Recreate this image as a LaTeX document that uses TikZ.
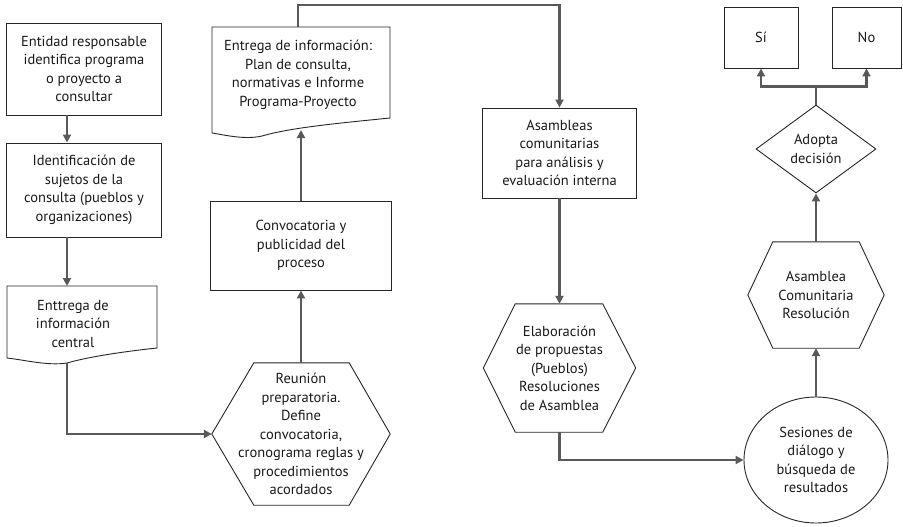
\documentclass[tikz,border=0pt]{standalone}
\usepackage{fontspec}
\setmainfont{PT Sans}
\usetikzlibrary{positioning,shapes.geometric,arrows.meta}

\begin{document}
\begin{tikzpicture}[x=1pt,y=-1pt]
		\tikzset{Paso/.style = {rectangle, draw=black!85, line width=0.9pt, align=center, inner sep=0pt, text=black!90, font=\fontsize{14.5}{18.5}\selectfont},
		         Texto/.style = {align=center, inner sep=0pt, text=black!90, font=\fontsize{14.5}{18.5}\selectfont},
		         Borde/.style = {draw=black!85, line width=0.9pt},
		         Flecha/.style = {draw=black!65, line width=2.4pt, -{Triangle[length=8pt,width=8pt]}}}
		\useasboundingbox (0,0) rectangle (903,527);
		% columna izquierda
		\node[Paso, minimum width=155pt, minimum height=92pt] (ent) at (84,69) {Entidad responsable\\identifica programa\\o proyecto a\\consultar};
		\node[Paso, minimum width=155pt, minimum height=94pt] (suj) at (84,190) {Identificación de\\sujetos de la\\consulta (pueblos y\\organizaciones)};
		\draw[Borde] (7,358) -- (7,286) -- (157,286) -- (157,348) .. controls (120,352) and (88,357) .. (67,363) .. controls (48,366) and (25,360) .. (7,358);
		\node[Texto] (cen) at (73,324) {Enttrega de\\información\\central};
		\coordinate (cent) at (67,286);
		\coordinate (cenb) at (67,363);
		% columna central
		\node[Texto, minimum width=178pt, minimum height=142pt] (reu) at (301,434) {Reunión\\preparatoria.\\Define\\convocatoria,\\cronograma reglas y\\procedimientos\\acordados};
		\draw[Borde] (reu.west) -- ([xshift=42pt]reu.north west) -- ([xshift=-41pt]reu.north east) -- (reu.east) -- ([xshift=-41pt]reu.south east) -- ([xshift=42pt]reu.south west) -- cycle;
		\node[Paso, minimum width=181pt, minimum height=89pt] (con) at (301,245.5) {Convocatoria y\\publicidad del\\proceso};
		\draw[Borde] (212,133) -- (212,27) -- (390,27) -- (390,118) .. controls (330,124) and (290,128) .. (262,136) .. controls (245,140) and (225,135) .. (212,133);
		\node[Texto] (inf) at (298,75) {Entrega de información:\\Plan de consulta,\\normativas e Informe\\Programa-Proyecto};
		\coordinate (inft) at (298,27);
		\coordinate (infb) at (301,130);
		\node[Paso, minimum width=154pt, minimum height=90pt] (asa) at (559.5,153) {Asambleas\\comunitarias\\para análisis y\\evaluación interna};
		\node[Texto, minimum width=152pt, minimum height=128pt] (ela) at (559.5,368) {Elaboración\\de propuestas\\(Pueblos)\\Resoluciones\\de Asamblea};
		\draw[Borde] (ela.west) -- ([xshift=32pt]ela.north west) -- ([xshift=-33pt]ela.north east) -- (ela.east) -- ([xshift=-33pt]ela.south east) -- ([xshift=32pt]ela.south west) -- cycle;
		% columna derecha
		\node[Paso, ellipse, minimum width=144pt, minimum height=126pt] (ses) at (816,460) {Sesiones de\\diálogo y\\búsqueda de\\resultados};
		\node[Texto, minimum width=136pt, minimum height=106pt] (asc) at (816,295) {Asamblea\\Comunitaria\\Resolución};
		\draw[Borde] (asc.west) -- ([xshift=25pt]asc.north west) -- ([xshift=-25pt]asc.north east) -- (asc.east) -- ([xshift=-25pt]asc.south east) -- ([xshift=25pt]asc.south west) -- cycle;
		\node[Paso, diamond, aspect=1.36, minimum width=120pt, minimum height=88pt] (ado) at (816,149) {Adopta\\decisión};
		\node[Paso, minimum width=74pt, minimum height=61pt] (si) at (761,37.5) {Sí};
		\node[Paso, minimum width=69pt, minimum height=61pt] (no) at (866.5,37.5) {No};
		% conectores
		\draw[Flecha] ([xshift=-17pt]ent.south) -- ([xshift=-17pt]suj.north);
		\draw[Flecha] ([xshift=-17pt]suj.south) -- (cent);
		\draw[Flecha] (cenb) |- (reu.west);
		\draw[Flecha] (reu.north) -- (con.south);
		\draw[Flecha] (con.north) -- (infb);
		\draw[Flecha] (inft) -- ++(0,-22) -| (asa.north);
		\draw[Flecha] (asa.south) -- (ela.north);
		\draw[Flecha] (ela.south) |- (ses.west);
		\draw[Flecha] (ses.north) -- (asc.south);
		\draw[Flecha] (asc.north) -- (ado.south);
		\draw[Flecha] (ado.north) -- ++(0,-18) -| (si.south);
		\draw[Flecha] (ado.north) -- ++(0,-18) -| (no.south);
\end{tikzpicture}
\end{document}
